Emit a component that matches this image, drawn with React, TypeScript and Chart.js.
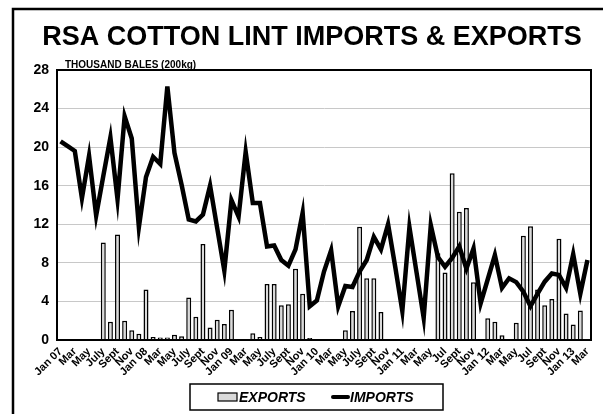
import React, { useEffect, useRef } from 'react';
import { Chart, registerables } from 'chart.js';

Chart.register(...registerables);

const TITLE = 'RSA COTTON LINT IMPORTS & EXPORTS';
const UNIT_LABEL = 'THOUSAND BALES (200kg)';
const SERIES_NAMES = ['EXPORTS', 'IMPORTS'];

const categories: string[] = [
  'Jan 07', 'Feb', 'Mar', 'Apr', 'May', 'June', 'July', 'Aug', 'Sept', 'Oct', 'Nov', 'Dec',
  'Jan 08', 'Feb', 'Mar', 'Apr', 'May', 'June', 'July', 'Aug', 'Sept', 'Oct', 'Nov', 'Dec',
  'Jan 09', 'Feb', 'Mar', 'Apr', 'May', 'June', 'July', 'Aug', 'Sept', 'Oct', 'Nov', 'Dec',
  'Jan 10', 'Feb', 'Mar', 'Apr', 'May', 'June', 'July', 'Aug', 'Sept', 'Oct', 'Nov', 'Dec',
  'Jan 11', 'Feb', 'Mar', 'Apr', 'May', 'Jun', 'Jul', 'Aug', 'Sept', 'Oct', 'Nov', 'Dec',
  'Jan 12', 'Feb', 'Mar', 'Apr', 'May', 'Jun', 'Jul', 'Aug', 'Sept', 'Oct', 'Nov', 'Dec',
  'Jan 13', 'Feb', 'Mar',
];

const exportsData: number[] = [
  0, 0, 0, 0, 0, 0, 10.1, 1.9, 10.95, 2.0, 1.0, 0.65,
  5.25, 0.3, 0.25, 0.25, 0.55, 0.4, 4.4, 2.4, 9.95, 1.3, 2.1, 1.65,
  3.15, 0, 0, 0.7, 0.3, 5.8, 5.8, 3.6, 3.7, 7.4, 4.8, 0.2,
  0.07, 0.07, 0, 0, 1.0, 3.0, 11.75, 6.4, 6.4, 2.9, 0.07, 0,
  0, 0, 0, 0, 0.1, 9.0, 7.0, 17.3, 13.3, 13.7, 6.0, 0,
  2.25, 1.9, 0.5, 0, 1.8, 10.8, 11.8, 5.25, 3.6, 4.25, 10.5, 2.75,
  1.6, 3.05, 0,
];

const importsData: number[] = [
  20.6, 20.1, 19.6, 14.7, 19.1, 12.9, 17.0, 21.0, 14.6, 23.2, 20.9, 11.7,
  16.9, 19.0, 18.25, 26.3, 19.4, 16.1, 12.5, 12.3, 13.0, 16.0, 11.6, 7.2,
  14.5, 12.8, 19.5, 14.2, 14.2, 9.7, 9.8, 8.3, 7.7, 9.4, 13.2, 3.5,
  4.1, 7.1, 9.3, 3.5, 5.6, 5.5, 7.1, 8.3, 10.7, 9.4, 12.0, 7.6,
  3.0, 11.7, 7.0, 2.3, 11.9, 8.6, 7.6, 8.5, 9.7, 7.4, 9.5, 3.8,
  6.3, 8.8, 5.4, 6.4, 6.0, 5.0, 3.5, 4.8, 6.05, 6.9, 6.75, 5.4,
  8.9, 4.8, 8.3,
];

const FONT = '"Liberation Sans", Arial, sans-serif';
const BAR_FILL = '#dadada';

const framePlugin = {
  id: 'frame',
  beforeDraw(chart: any) {
    const ctx = chart.ctx;
    ctx.save();
    ctx.fillStyle = '#ffffff';
    ctx.fillRect(0, 0, chart.width, chart.height);
    ctx.restore();
  },
  afterDraw(chart: any) {
    const ctx = chart.ctx;
    const { left, top, right, bottom } = chart.chartArea;
    ctx.save();
    // outer frame
    ctx.strokeStyle = '#000';
    ctx.lineWidth = 2.5;
    ctx.beginPath();
    ctx.moveTo(13, 414);
    ctx.lineTo(13, 9);
    ctx.lineTo(603, 9);
    ctx.stroke();
    // plot border
    ctx.lineWidth = 2;
    ctx.strokeRect(left, top, right - left, bottom - top);
    // title
    ctx.fillStyle = '#000';
    ctx.textAlign = 'center';
    ctx.textBaseline = 'alphabetic';
    ctx.font = `bold 27px ${FONT}`;
    ctx.fillText(TITLE, 312, 45);
    // unit label
    ctx.textAlign = 'left';
    ctx.font = `bold 10px ${FONT}`;
    ctx.fillText(UNIT_LABEL, 65, 68);

    // legend
    const lx = 190, ly = 384, lw = 253, lh = 26;
    ctx.lineWidth = 1.5;
    ctx.strokeStyle = '#000';
    ctx.strokeRect(lx, ly, lw, lh);
    const cy = ly + lh / 2;
    ctx.fillStyle = BAR_FILL;
    ctx.fillRect(218, cy - 4, 19, 8);
    ctx.lineWidth = 1.2;
    ctx.strokeRect(218, cy - 4, 19, 8);
    ctx.font = `italic bold 14px ${FONT}`;
    ctx.fillStyle = '#000';
    ctx.textBaseline = 'middle';
    ctx.fillText(SERIES_NAMES[0], 239, cy + 1);
    ctx.lineWidth = 4;
    ctx.lineCap = 'round';
    ctx.beginPath();
    ctx.moveTo(333, cy);
    ctx.lineTo(348, cy);
    ctx.stroke();
    ctx.fillText(SERIES_NAMES[1], 350, cy + 1);
    ctx.restore();
  },
};

export default function App() {
  const ref = useRef<HTMLCanvasElement | null>(null);
  useEffect(() => {
    if (!ref.current) return;
    const chart = new Chart(ref.current, {
      type: 'bar',
      data: {
        labels: categories,
        datasets: [
          {
            type: 'bar',
            label: SERIES_NAMES[0],
            data: exportsData,
            backgroundColor: BAR_FILL,
            borderColor: '#000',
            borderWidth: 1.5,
            barPercentage: 0.7,
            categoryPercentage: 1,
            order: 1,
          },
          {
            type: 'line',
            label: SERIES_NAMES[1],
            data: importsData,
            borderColor: '#000',
            backgroundColor: '#000',
            borderWidth: 4.5,
            pointRadius: 0,
            tension: 0,
            order: 0,
          } as any,
        ],
      },
      options: {
        responsive: false,
        animation: false,
        layout: { padding: { top: 70, left: 0, right: 12, bottom: 34 } },
        plugins: {
          title: { display: false },
          tooltip: { enabled: false },
          legend: { display: false },
        },
        scales: {
          x: {
            offset: true,
            grid: { display: false, drawTicks: false },
            border: { display: true, color: '#000', width: 2 },
            afterFit: (scale: any) => { scale.height = 40; },
            ticks: {
              autoSkip: false,
              maxRotation: 45,
              minRotation: 45,
              padding: 5,
              color: '#000',
              font: { family: FONT, size: 11, weight: 'bold' },
              callback: (_v: any, i: number) => (i % 2 === 0 ? categories[i] : ''),
            },
          },
          y: {
            min: 0,
            max: 28,
            afterFit: (scale: any) => { scale.width = 57; },
            grid: { color: '#c8c8c8', lineWidth: 1, drawTicks: false },
            border: { display: true, color: '#000', width: 2 },
            ticks: {
              stepSize: 4,
              padding: 8,
              color: '#000',
              font: { family: FONT, size: 14, weight: 'bold' },
            },
          },
        },
      },
      plugins: [framePlugin],
    });
    return () => chart.destroy();
  }, []);
  return (
    <div style={{ position: 'absolute', left: 0, top: 0, width: 603, height: 414 }}>
      <canvas ref={ref} width={603} height={414} />
    </div>
  );
}
